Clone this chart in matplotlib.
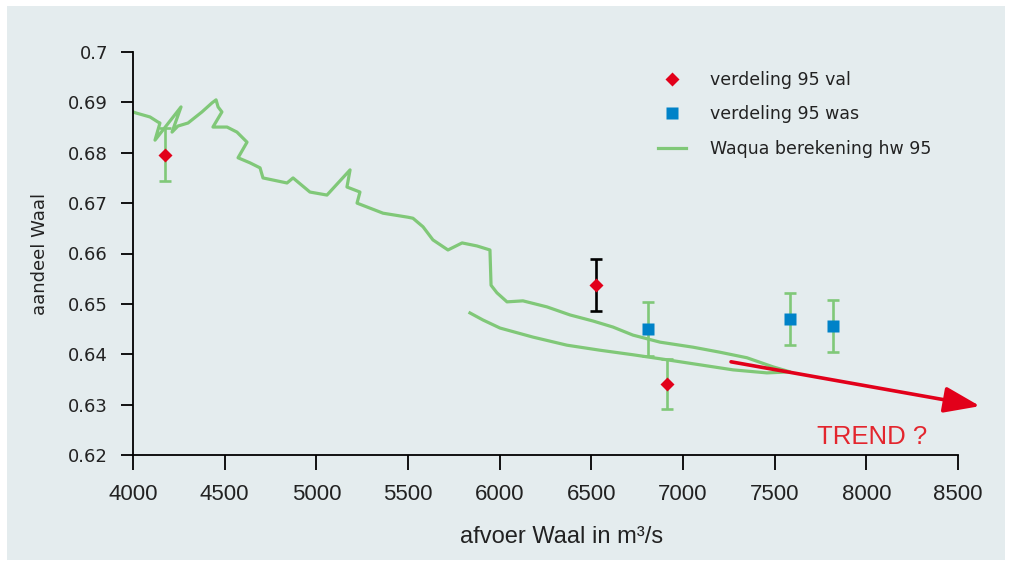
import matplotlib
matplotlib.use("Agg")
import matplotlib.pyplot as plt
from matplotlib.patches import Rectangle

# Waqua berekening hw 95 (hysteresis loop)
waqua_x = [4000, 4016, 4093, 4136, 4147, 4120, 4262, 4213, 4245, 4300, 4376,
           4431, 4453, 4464, 4485, 4436, 4513, 4567, 4622, 4573, 4638,
           4693, 4709, 4840, 4873, 4965, 5058, 5184, 5167, 5238, 5222,
           5364, 5500, 5527, 5582, 5636, 5718, 5795, 5876, 5947, 5953,
           5985, 6040, 6127, 6258, 6384, 6509, 6618, 6727, 6875, 7055,
           7202, 7349, 7491, 7584, 7458, 7273, 7093, 6913, 6727, 6547,
           6367, 6182, 6002, 5909, 5838]
waqua_y = [0.6881, 0.6879, 0.6871, 0.6861, 0.6859, 0.6825, 0.6891, 0.6841, 0.6853, 0.6859, 0.6881,
           0.6899, 0.6905, 0.6891, 0.6881, 0.6851, 0.6851, 0.6841, 0.6821, 0.6790, 0.6780,
           0.6770, 0.6750, 0.6740, 0.6750, 0.6722, 0.6716, 0.6766, 0.6732, 0.6722, 0.6700,
           0.6680, 0.6672, 0.6670, 0.6653, 0.6627, 0.6607, 0.6621, 0.6615, 0.6607, 0.6537,
           0.6522, 0.6504, 0.6506, 0.6494, 0.6478, 0.6466, 0.6454, 0.6438, 0.6424, 0.6414,
           0.6404, 0.6393, 0.6375, 0.6365, 0.6363, 0.6369, 0.6379, 0.6389, 0.6399, 0.6408,
           0.6418, 0.6434, 0.6452, 0.6468, 0.6482]

# verdeling 95 val
val_x = [4175, 6525, 6915]
val_y = [0.6796, 0.6537, 0.6341]
val_err = [0.0053, 0.0052, 0.0050]
val_errcolor = ["#80c878", "black", "#80c878"]

# verdeling 95 was
was_x = [6810, 7584, 7820]
was_y = [0.6450, 0.6470, 0.6456]
was_err = [0.0053, 0.0052, 0.0052]

# trend arrow
trend_start = (7262, 0.6385)
trend_end = (8620, 0.6297)

green = "#80c878"
red = "#e2001a"
blue = "#0082c8"
bg = "#e4ecee"

fig = plt.figure(figsize=(10.12, 5.66), dpi=100)
fig.patch.set_facecolor("white")
fig.patches.append(Rectangle((7 / 1012, 6 / 566), 998 / 1012, 554 / 566,
                             transform=fig.transFigure, facecolor=bg,
                             edgecolor="none", zorder=-10))

ax = fig.add_axes([133 / 1012, 1 - 455 / 566, 825 / 1012, 403 / 566])
ax.set_facecolor("none")

ax.plot(waqua_x, waqua_y, color=green, lw=2.3, solid_joinstyle="round",
        label="Waqua berekening hw 95", zorder=2)

for x, y, e, c in zip(val_x, val_y, val_err, val_errcolor):
    ax.errorbar(x, y, yerr=e, fmt="none", ecolor=c, elinewidth=1.9,
                capsize=4, capthick=1.9, zorder=3)
for x, y, e in zip(was_x, was_y, was_err):
    ax.errorbar(x, y, yerr=e, fmt="none", ecolor=green, elinewidth=1.9,
                capsize=4, capthick=1.9, zorder=3)

ax.plot(val_x, val_y, ls="none", marker="D", ms=7.4, mfc=red, mec="none",
        label="verdeling 95 val", zorder=4)
ax.plot(was_x, was_y, ls="none", marker="s", ms=8.5, mfc=blue, mec="none",
        label="verdeling 95 was", zorder=4)

ax.annotate("", xy=trend_end, xytext=trend_start, annotation_clip=False,
            arrowprops=dict(arrowstyle="-|>,head_length=2.2,head_width=0.8",
                            color=red, lw=2.6, shrinkA=0, shrinkB=0))
ax.text(8031, 0.6235, "TREND ?", color="#e3262e", fontsize=18.5,
        family="Liberation Sans", ha="center", va="center")

ax.set_xlim(4000, 8500)
ax.set_ylim(0.62, 0.70)
ax.set_xticks(range(4000, 8501, 500))
ax.set_yticks([0.62, 0.63, 0.64, 0.65, 0.66, 0.67, 0.68, 0.69, 0.70])
ax.set_yticklabels(["0.62", "0.63", "0.64", "0.65", "0.66", "0.67", "0.68", "0.69", "0.7"])
for s in ["top", "right"]:
    ax.spines[s].set_visible(False)
for s in ["left", "bottom"]:
    ax.spines[s].set_linewidth(1.3)
ax.tick_params(axis="y", direction="out", length=9, width=1.3, pad=9,
               labelsize=13, labelcolor="#222222")
ax.tick_params(axis="x", direction="out", length=11, width=1.3, pad=10,
               labelsize=16, labelcolor="#222222")
for lab in ax.get_xticklabels():
    lab.set_family("Liberation Sans")

ax.set_ylabel("aandeel Waal", fontsize=13, labelpad=14, color="#222222")
ax.set_xlabel("afvoer Waal in m³/s", fontsize=17, family="Liberation Sans",
              labelpad=12, color="#222222")
ax.xaxis.set_label_coords((562 - 133) / 825, -0.175)

handles, labels = ax.get_legend_handles_labels()
order = [1, 2, 0]
leg = ax.legend([handles[i] for i in order], [labels[i] for i in order],
                loc="upper left", bbox_to_anchor=(658 / 1012, 1 - 71 / 566),
                bbox_transform=fig.transFigure, frameon=False, fontsize=12.5,
                handlelength=1.6, handletextpad=1.4, labelspacing=0.95,
                borderpad=0, borderaxespad=0)
for t in leg.get_texts():
    t.set_color("#222222")

fig.savefig("out.png", dpi=100, facecolor=fig.get_facecolor())
